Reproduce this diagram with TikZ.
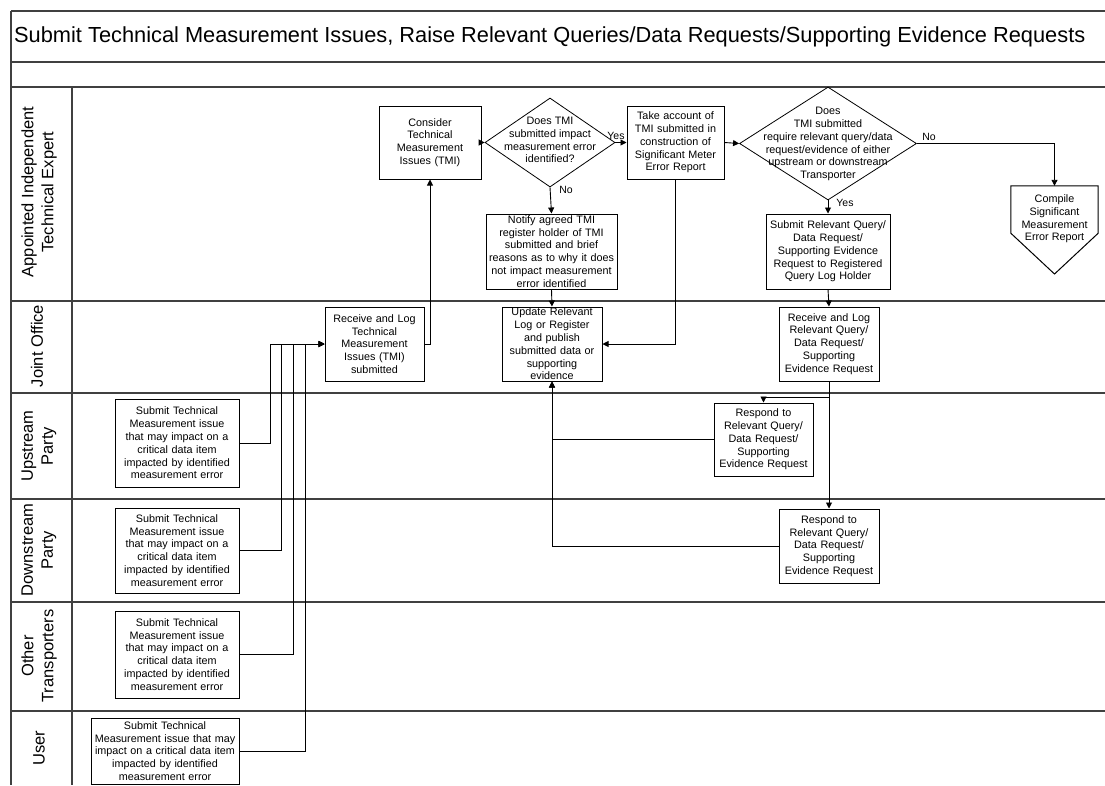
\documentclass[tikz,border=0pt]{standalone}
\usepackage{fontspec}
\setmainfont{Liberation Sans}
\usetikzlibrary{shapes.geometric,arrows.meta}
\tikzset{
  frame/.style={draw=black!75, line width=1.1pt},
  box/.style n args={2}{draw=black, line width=1pt, align=center, inner sep=0pt,
    text width=#1, minimum height=#2, font=\fontsize{10.8}{12.8}\selectfont},
  txt/.style={align=center, inner sep=0pt, font=\fontsize{10.8}{12.8}\selectfont},
  dia/.style n args={2}{draw=black, line width=0.8pt, shape=diamond, inner sep=0pt,
    minimum width=#1, minimum height=#2},
  lane/.style={rotate=90, align=center, inner sep=0pt, font=\fontsize{16.5}{20}\selectfont},
  lbl/.style={inner sep=0pt, font=\fontsize{10.5}{12}\selectfont},
  conn/.style={draw=black, line width=0.9pt, -{Triangle[length=6pt,width=6pt]}},
  seg/.style={draw=black, line width=0.9pt}
}
\begin{document}
\begin{tikzpicture}[x=1pt,y=-1pt]
\useasboundingbox (0,0) rectangle (1105,785);
\fill[white] (0,0) rectangle (1105,785);
% frame
\draw[frame] (11,11) -- (1105,11);
\draw[frame] (11,62) -- (1105,62);
\draw[frame] (11,87) -- (1105,87);
\foreach \yy in {301,393,499,602,711} \draw[frame] (11,\yy) -- (1105,\yy);
\draw[frame] (11,11) -- (11,785);
\draw[frame] (72,87) -- (72,785);
\node[anchor=west, inner sep=0pt, font=\fontsize{21.8}{24}\selectfont] (title) at (14,37)
  {Submit Technical Measurement Issues, Raise Relevant Queries/Data Requests/Supporting Evidence Requests};
% lane labels
\node[lane] (l1) at (39,192) {Appointed Independent\\Technical Expert};
\node[lane] (l2) at (37,346) {Joint Office};
\node[lane] (l3) at (39,446) {Upstream\\Party};
\node[lane] (l4) at (39,550) {Downstream\\Party};
\node[lane] (l5) at (39,656) {Other\\Transporters};
\node[lane] (l6) at (39,748) {User};
% expert lane
\node[box={102pt}{73pt}] (cons) at (430,142.5) {Consider\\Technical\\Measurement\\Issues (TMI)};
\node[dia={130pt}{89pt}] (d1) at (550,142.5) {};
\node[txt] (d1t) at (550,140) {Does TMI\\submitted impact\\measurement error\\identified?};
\node[box={97pt}{73pt}] (take) at (675.5,142.5) {Take account of\\TMI submitted in\\construction of\\Significant Meter\\Error Report};
\node[box={131pt}{75pt}] (notify) at (551.5,251.5) {Notify agreed TMI\\register holder of TMI\\submitted and brief\\reasons as to why it does\\not impact measurement\\error identified};
\node[dia={177pt}{113pt}] (d2) at (828,143.5) {};
\node[txt] (d2t) at (828,144) {Does\\TMI submitted\\require relevant query/data\\request/evidence of either\\upstream or downstream\\Transporter};
\node[box={124pt}{75pt}] (sub) at (828,251.5) {Submit Relevant Query/\\Data Request/\\Supporting Evidence\\Request to Registered\\Query Log Holder};
\node[minimum width=87pt, minimum height=47pt, inner sep=0pt] (comp) at (1054.5,209.5) {};
\draw[black, line width=1pt] (comp.north west) -- (comp.north east) -- (comp.south east)
  -- (1054.5,274) -- (comp.south west) -- cycle;
\node[txt] (compt) at (1054.5,219) {Compile\\Significant\\Measurement\\Error Report};
% joint office
\node[box={99pt}{74pt}] (rec) at (374.5,344) {Receive and Log\\Technical\\Measurement\\Issues (TMI)\\submitted};
\node[box={100pt}{74pt}] (upd) at (552,344) {Update Relevant\\Log or Register\\and publish\\submitted data or\\supporting\\evidence};
\node[box={100pt}{74pt}] (rrq) at (829,344) {Receive and Log\\Relevant Query/\\Data Request/\\Supporting\\Evidence Request};
% upstream / downstream responses
\node[box={99pt}{73pt}] (resp1) at (763.5,439.5) {Respond to\\Relevant Query/\\Data Request/\\Supporting\\Evidence Request};
\node[box={100pt}{74pt}] (resp2) at (829,546) {Respond to\\Relevant Query/\\Data Request/\\Supporting\\Evidence Request};
% submitters
\node[box={124pt}{88pt}] (up) at (177,443) {Submit Technical\\Measurement issue\\that may impact on a\\critical data item\\impacted by identified\\measurement error};
\node[box={124pt}{85pt}] (dn) at (177,550.5) {Submit Technical\\Measurement issue\\that may impact on a\\critical data item\\impacted by identified\\measurement error};
\node[box={124pt}{87pt}] (ot) at (177,654.5) {Submit Technical\\Measurement issue\\that may impact on a\\critical data item\\impacted by identified\\measurement error};
\node[box={148pt}{66pt}] (us) at (165,751) {Submit Technical\\Measurement issue that may\\impact on a critical data item\\impacted by identified\\measurement error};
% junctions
\coordinate (j1) at (270,344);
\coordinate (j2) at (281,344);
\coordinate (j3) at (293,344);
\coordinate (j4) at (305,344);
\draw[conn] (up.east) -| (j1) -- (rec.west);
\draw[conn] (dn.east) -| (j2) -- (rec.west);
\draw[conn] (ot.east) -| (j3) -- (rec.west);
\draw[conn] (us.east) -| (j4) -- (rec.west);
\draw[conn] (rec.east) -| (cons.south);
\draw[conn] (cons.east) -- (d1.west);
\draw[conn] (d1.east) -- (take.west);
\draw[conn] (d1.south) -- (notify.north);
\draw[conn] (take.east) -- (d2.west);
\draw[conn] (take.south) |- (upd.east);
\draw[conn] (notify.south) -- (upd.north);
\draw[conn] (d2.east) -| (comp.north);
\draw[conn] (d2.south) -- (sub.north);
\draw[conn] (sub.south) -- (rrq.north);
\draw[conn] (rrq.south) -- ++(0,16) -| (resp1.north);
\draw[conn] (rrq.south) -- (resp2.north);
\draw[conn] (resp1.west) -| (upd.south);
\draw[conn] (resp2.west) -| (upd.south);
% labels
\node[lbl] (y1) at (616,136) {Yes};
\node[lbl] (n1) at (566,190) {No};
\node[lbl] (n2) at (929,137) {No};
\node[lbl] (y2) at (845,203) {Yes};
\end{tikzpicture}
\end{document}
